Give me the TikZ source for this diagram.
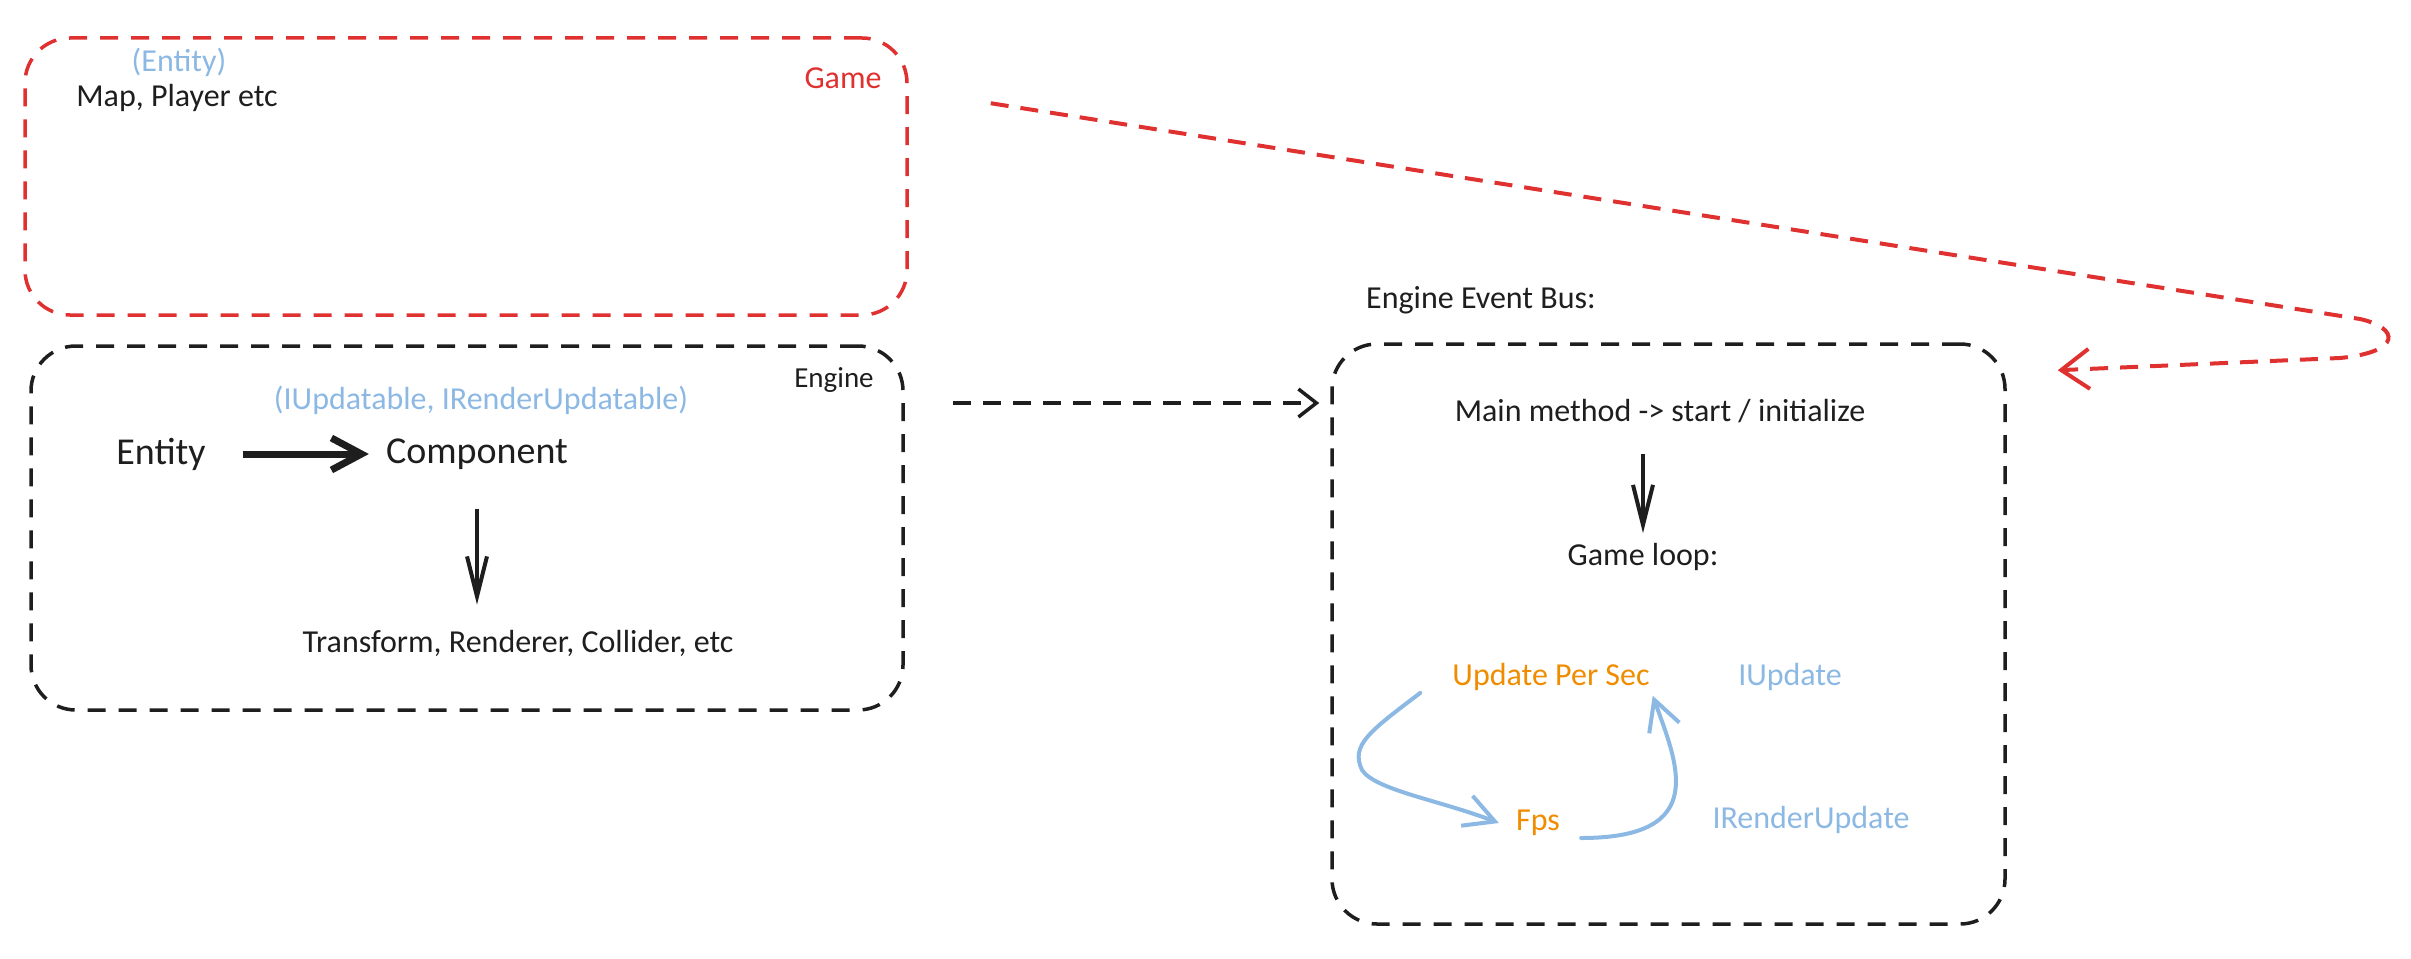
\documentclass[tikz,border=0pt]{standalone}
\usepackage{fontspec}
\setmainfont{Carlito}
\usetikzlibrary{arrows.meta,positioning}
\definecolor{inkblack}{HTML}{1E1E1E}
\definecolor{inkred}{HTML}{E03131}
\definecolor{inkblue}{HTML}{8CB8E4}
\definecolor{inkorange}{HTML}{F08C00}

\begin{document}
\begin{tikzpicture}[
x=1pt, y=-1pt,
frame/.style={draw, dash pattern=on 18pt off 13pt, line width=3.5pt, rounded corners=45pt, inner sep=0pt},
txt/.style={font=\fontsize{32}{38}\selectfont, text=inkblack, inner sep=2pt},
bigtxt/.style={font=\fontsize{38}{44}\selectfont, text=inkblack, inner sep=2pt},
note/.style={txt, text=inkblue},
rate/.style={txt, text=inkorange},
mainflow/.style={-{Straight Barb[length=30pt, width=32pt]}, line width=7pt, inkblack},
downflow/.style={-{Straight Barb[length=40pt, width=20pt]}, line width=4pt, inkblack},
linkflow/.style={-{Straight Barb[length=18pt, width=28pt]}, line width=3.5pt, inkblack, dash pattern=on 18pt off 12pt},
gameflow/.style={-{Straight Barb[length=28pt, width=40pt]}, line width=4pt, inkred, dash pattern=on 18pt off 12pt},
loopflow/.style={-{Straight Barb[length=30pt, width=32pt]}, line width=4pt, inkblue, line cap=round}
]
\useasboundingbox (0,0) rectangle (2411,958);

\node[frame, inkred, minimum width=882pt, minimum height=277pt] (game) at (466,176.5) {};
\node[frame, inkblack, minimum width=872pt, minimum height=364pt] (engine) at (467,528) {};
\node[frame, inkblack, minimum width=673pt, minimum height=580pt] (bus) at (1668.5,634) {};

\node[note] (entitynote) at (179,62) {(Entity)};
\node[txt] (gameobjs) at (177,98) {Map, Player etc};
\node[txt, text=inkred] (gametitle) at (843,78) {Game};

\node[txt, font=\fontsize{29}{34}\selectfont] (enginetitle) at (834,380) {Engine};
\node[note] (ifaces) at (481,400) {(IUpdatable, IRenderUpdatable)};
\node[bigtxt] (entity) at (161,454) {Entity};
\node[bigtxt] (component) at (477,454) {Component};
\node[txt] (parts) at (518,643) {Transform, Renderer, Collider, etc};

\node[txt, anchor=west] (bustitle) at (1364,300) {Engine Event Bus:};
\node[txt] (main) at (1660,411) {Main method -> start / initialize};
\node[txt] (loop) at (1643,557) {Game loop:};
\node[rate] (updsec) at (1551,677) {Update Per Sec};
\node[note] (iupdate) at (1790,677) {IUpdate};
\node[rate] (fps) at (1538,823) {Fps};
\node[note] (irender) at (1811,820) {IRenderUpdate};

\coordinate (gametail) at ([shift={(82,67)}]game.north east);
\coordinate (bushead) at ([shift={(51,28)}]bus.north east);
\coordinate (enginetail) at (953,403);

\draw[mainflow, shorten <=35pt, shorten >=15pt] (entity) -- (component);
\draw[downflow, shorten <=37pt, shorten >=23pt] (component.south) -- (component.south |- parts.north);
\draw[downflow, shorten <=29pt, shorten >=8pt] (loop |- main.south) -- (loop.north);
\draw[linkflow, shorten >=11pt] (enginetail) -- (enginetail -| bus.west);
\draw[gameflow] (gametail) -- (2360,319) .. controls (2400,328) and (2402,352) .. (2340,358) -- (bushead);
\draw[loopflow] ([xshift=-30pt]updsec.south west) .. controls +(-50,38) and +(-12,-25) .. (1362,770) .. controls +(13,20) and +(-60,-23) .. ([xshift=-15pt]fps.west);
\draw[loopflow, shorten >=3pt] ([shift={(19,15)}]fps.east) .. controls +(130,0) and +(25,70) .. (updsec.south east);
\end{tikzpicture}
\end{document}
